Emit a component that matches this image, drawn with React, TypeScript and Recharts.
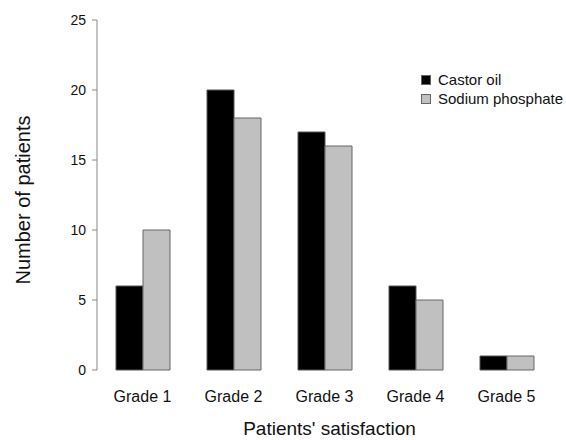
import { BarChart, Bar, XAxis, YAxis } from "recharts"

const grades = ["Grade 1", "Grade 2", "Grade 3", "Grade 4", "Grade 5"]
const castorOil = [6, 20, 17, 6, 1]
const sodiumPhosphate = [10, 18, 16, 5, 1]
const yTicks = [0, 5, 10, 15, 20, 25]
const bandTicks = [0, 1, 2, 3, 4, 5]

const series = [
  { key: "castor", name: "Castor oil", fill: "#000", stroke: "#555" },
  { key: "sodium", name: "Sodium phosphate", fill: "#c0c0c0", stroke: "#666" },
]

const data = grades.map((grade, i) => ({
  grade,
  castor: castorOil[i],
  sodium: sodiumPhosphate[i],
  pos: i + 0.5,
}))

const font = "'Liberation Sans', Arial, sans-serif"

// legend drawn as an overlay so it doesn't eat plot space
function LegendBox() {
  return (
    <div
      style={{
        position: "absolute",
        left: 421,
        top: 70,
        fontFamily: font,
        fontSize: 15,
        color: "#111",
        lineHeight: "19px",
      }}
    >
      {series.map((s) => (
        <div key={s.key} style={{ display: "flex", alignItems: "center" }}>
          <span
            style={{
              display: "inline-block",
              width: 8,
              height: 8,
              background: s.fill,
              border: "1px solid #666",
              marginRight: 7,
            }}
          />
          {s.name}
        </div>
      ))}
    </div>
  )
}

export default function App() {
  return (
    <div style={{ position: "absolute", left: 0, top: 0, width: 566, height: 440, background: "#fff" }}>
      <BarChart
        width={566}
        height={440}
        data={data}
        margin={{ top: 20, right: 14, bottom: 38, left: 37 }}
        barGap={0}
      >
        <XAxis
          xAxisId="band"
          type="number"
          dataKey="pos"
          domain={[0, 5]}
          ticks={bandTicks}
          height={0}
          stroke="#888"
          tickSize={5}
          tickFormatter={() => ""}
        />
        <XAxis
          dataKey="grade"
          height={32}
          axisLine={false}
          tickLine={false}
          tickMargin={15}
          tick={{ fontSize: 16, fill: "#111", fontFamily: font }}
          label={{
            value: "Patients' satisfaction",
            position: "insideBottom",
            offset: -33,
            dx: 5,
            fontSize: 19,
            fill: "#111",
            fontFamily: font,
          }}
        />
        <YAxis
          width={60}
          domain={[0, 25]}
          ticks={yTicks}
          stroke="#888"
          tickSize={5}
          tickMargin={6}
          tick={{ fontSize: 14, fill: "#111", fontFamily: font }}
          label={{
            value: "Number of patients",
            angle: -90,
            position: "insideLeft",
            offset: -14,
            dy: 5,
            fontSize: 20,
            fill: "#111",
            fontFamily: font,
            style: { textAnchor: "middle" },
          }}
        />
        {series.map((s) => (
          <Bar
            key={s.key}
            dataKey={s.key}
            name={s.name}
            fill={s.fill}
            stroke={s.stroke}
            barSize={27}
            isAnimationActive={false}
          />
        ))}
      </BarChart>
      <LegendBox />
    </div>
  )
}
